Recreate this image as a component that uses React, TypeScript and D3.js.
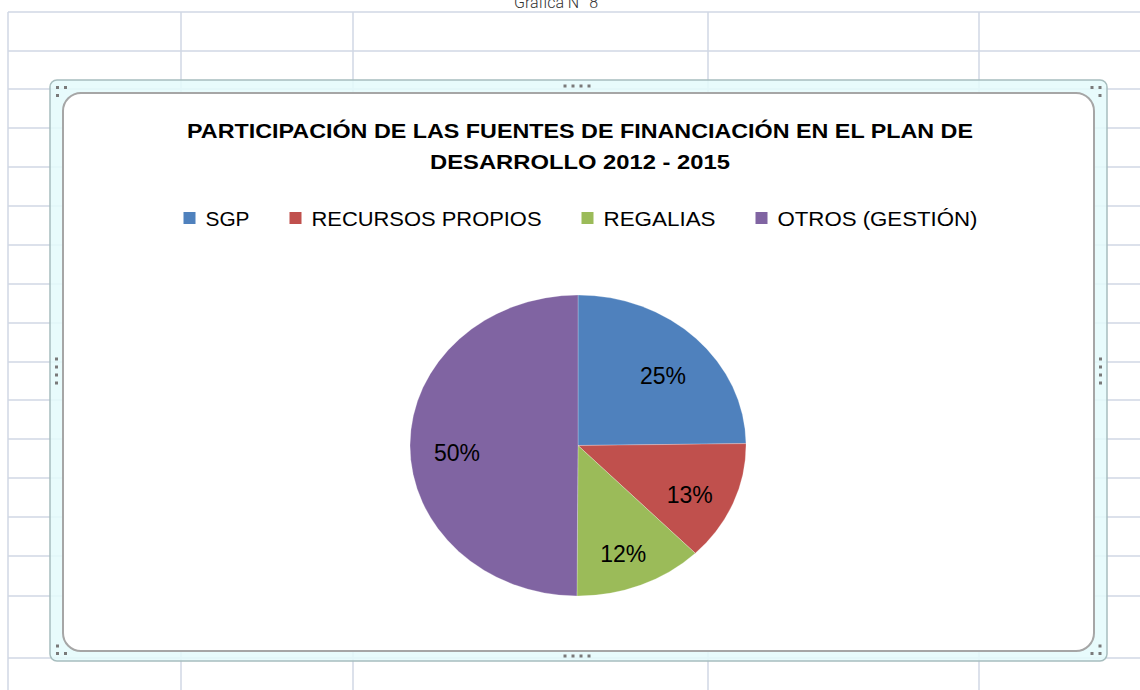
import React, { useEffect, useRef } from "react";
import * as d3 from "d3";

const categories = ["SGP", "RECURSOS PROPIOS", "REGALIAS", "OTROS (GESTIÓN)"];
const values = [24.8, 12.9, 12.4, 49.9];
const colors = ["#4F81BD", "#C0504D", "#9BBB59", "#8064A2"];
const titleLines = [
  "PARTICIPACIÓN DE LAS FUENTES DE FINANCIACIÓN EN EL PLAN DE",
  "DESARROLLO 2012 - 2015",
];
const caption = "Gráfica N° 8";

const W = 1140;
const H = 690;
const gridCols = [8, 181, 353, 708, 979];
const gridRows = [12, 51, 89, 128, 167, 206, 245, 284, 323, 362, 400, 439, 478, 517, 556, 596, 658];

export default function App() {
  const ref = useRef<SVGSVGElement | null>(null);

  useEffect(() => {
    const svg = d3.select(ref.current);
    svg.selectAll("*").remove();

    svg.append("rect").attr("width", W).attr("height", H).attr("fill", "#ffffff");

    // caption at top (partially cut in the reference)
    svg
      .append("text")
      .attr("x", 556)
      .attr("y", 8)
      .attr("text-anchor", "middle")
      .attr("font-family", "Roboto, 'Liberation Sans', sans-serif")
      .attr("font-weight", 300)
      .attr("font-size", 16)
      .attr("fill", "#333")
      .text(caption);

    // spreadsheet grid
    const grid = svg.append("g").attr("stroke", "#d0d7e5").attr("stroke-width", 1.5);
    gridRows.forEach((y) =>
      grid.append("line").attr("x1", gridCols[0]).attr("x2", W).attr("y1", y).attr("y2", y)
    );
    gridCols.forEach((x) =>
      grid.append("line").attr("x1", x).attr("x2", x).attr("y1", gridRows[0]).attr("y2", H)
    );

    // chart selection frame
    svg
      .append("rect")
      .attr("x", 50)
      .attr("y", 80)
      .attr("width", 1057)
      .attr("height", 581)
      .attr("rx", 7)
      .attr("fill", "#e4fafb")
      .attr("fill-opacity", 0.85)
      .attr("stroke", "#a7bdbe")
      .attr("stroke-width", 1.5);

    svg
      .append("rect")
      .attr("x", 63)
      .attr("y", 93)
      .attr("width", 1031)
      .attr("height", 558)
      .attr("rx", 18)
      .attr("fill", "#ffffff")
      .attr("stroke", "#a6a6a6")
      .attr("stroke-width", 2);

    // handles
    const hg = svg.append("g").attr("fill", "#7a7a7a");
    const dot = (x: number, y: number) =>
      hg.append("rect").attr("x", x - 1.5).attr("y", y - 1.5).attr("width", 3).attr("height", 3);
    [565, 573, 581, 589].forEach((x) => {
      dot(x, 86);
      dot(x, 656);
    });
    [359, 367, 375, 383].forEach((y) => {
      dot(56.5, y);
      dot(1100.5, y);
    });
    dot(57.5, 87.5); dot(65.5, 87.5); dot(57.5, 95.5);
    dot(1092, 87.5); dot(1100, 87.5); dot(1100, 95.5);
    dot(57.5, 646); dot(57.5, 653.5); dot(65.5, 653.5);
    dot(1100, 646); dot(1100, 653.5); dot(1092, 653.5);

    // title
    const titleWidths = [786, 300];
    titleLines.forEach((t, i) => {
      svg
        .append("text")
        .attr("x", 580)
        .attr("y", 131 + i * 31)
        .attr("text-anchor", "middle")
        .attr("dominant-baseline", "central")
        .attr("font-family", "'Liberation Sans', Arial, sans-serif")
        .attr("font-weight", "bold")
        .attr("font-size", 20)
        .attr("fill", "#000")
        .attr("textLength", titleWidths[i])
        .attr("lengthAdjust", "spacingAndGlyphs")
        .text(t);
    });

    // legend
    const legendWidths = [44, 230, 112, 200];
    const sq = 12;
    const gapSqText = 10;
    const gapItems = 40;
    const total =
      legendWidths.reduce((a, b) => a + b, 0) +
      categories.length * (sq + gapSqText) +
      (categories.length - 1) * gapItems;
    let lx = 580.5 - total / 2;
    const ly = 218;
    const lg = svg.append("g");
    categories.forEach((c, i) => {
      lg.append("rect")
        .attr("x", lx)
        .attr("y", ly - sq / 2)
        .attr("width", sq)
        .attr("height", sq)
        .attr("fill", colors[i]);
      lg.append("text")
        .attr("x", lx + sq + gapSqText)
        .attr("y", ly)
        .attr("dominant-baseline", "central")
        .attr("font-family", "'Liberation Sans', Arial, sans-serif")
        .attr("font-size", 21)
        .attr("fill", "#000")
        .attr("textLength", legendWidths[i])
        .attr("lengthAdjust", "spacingAndGlyphs")
        .text(c);
      lx += sq + gapSqText + legendWidths[i] + gapItems;
    });

    // pie (elliptical)
    const cx = 578;
    const cy = 445.5;
    const rx = 168;
    const ry = 150.5;
    const pie = d3.pie<number>().sort(null).value((d) => d);
    const arcs = pie(values);
    const arc = d3.arc<d3.PieArcDatum<number>>().innerRadius(0).outerRadius(ry);
    const pg = svg
      .append("g")
      .attr("transform", `translate(${cx},${cy}) scale(${rx / ry},1)`);
    pg.selectAll("path")
      .data(arcs)
      .join("path")
      .attr("d", (d) => arc(d) as string)
      .attr("fill", (_, i) => colors[i])
      .attr("stroke", "#ffffff")
      .attr("stroke-opacity", 0.35)
      .attr("stroke-width", 0.7)
      .attr("vector-effect", "non-scaling-stroke");

    const labelArc = d3.arc<d3.PieArcDatum<number>>().innerRadius(ry * 0.72).outerRadius(ry * 0.72);
    arcs.forEach((d) => {
      const [x, y] = labelArc.centroid(d);
      svg
        .append("text")
        .attr("x", cx + x * (rx / ry))
        .attr("y", cy + y + 8)
        .attr("text-anchor", "middle")
        .attr("dominant-baseline", "central")
        .attr("font-family", "'Liberation Sans', Arial, sans-serif")
        .attr("font-size", 23)
        .attr("fill", "#000")
        .text(`${Math.round(d.data)}%`);
    });
  }, []);

  return (
    <svg
      ref={ref}
      width={W}
      height={H}
      style={{ position: "absolute", left: 0, top: 0, display: "block" }}
    />
  );
}
